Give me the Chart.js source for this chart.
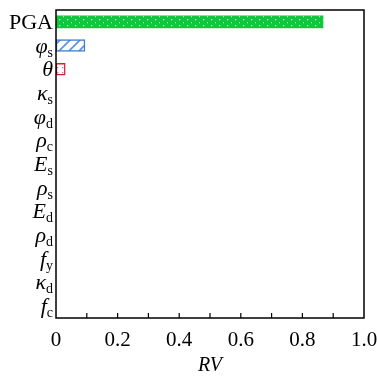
<!DOCTYPE html>
<html>
<head>
<meta charset="utf-8">
<script src="https://cdn.jsdelivr.net/npm/chart.js@4"></script>
<style>
  html, body { margin: 0; padding: 0; background: #fff; }
  #wrap { width: 377px; height: 378px; }
</style>
</head>
<body>
<div id="wrap"><canvas id="rvChart"></canvas></div>
<script>
// parameters (symbol + subscript) and their RV values
var labelMain = ["PGA", "\u03c6", "\u03b8", "\u03ba", "\u03c6", "\u03c1", "E", "\u03c1", "E", "\u03c1", "f", "\u03ba", "f"];
var labelSub = ["", "s", "", "s", "d", "c", "s", "s", "d", "d", "y", "d", "c"];
var rvValues = [0.867, 0.094, 0.03, 0, 0, 0, 0, 0, 0, 0, 0, 0, 0];
var xTicks = [0, 0.2, 0.4, 0.6, 0.8, 1.0];

var categories = labelMain.map(function (m, i) { return m + labelSub[i]; });

// fill patterns
function makePattern(kind) {
  var c = document.createElement("canvas");
  var g = c.getContext("2d");
  if (kind == "dots") {
    c.width = 8; c.height = 6;
    g.fillStyle = "#0fc63c";
    g.fillRect(0, 0, 8, 6);
    g.fillStyle = "rgba(255,255,255,0.7)";
    g.fillRect(3, 1, 1.3, 1.3);
    g.fillRect(7, 4, 1.3, 1.3);
  } else if (kind == "hatch") {
    c.width = 10; c.height = 10;
    g.fillStyle = "#ffffff";
    g.fillRect(0, 0, 10, 10);
    g.strokeStyle = "#5a90e0";
    g.lineWidth = 1.6;
    g.beginPath();
    g.moveTo(0, 10); g.lineTo(10, 0);
    g.moveTo(-2, 2); g.lineTo(2, -2);
    g.moveTo(8, 12); g.lineTo(12, 8);
    g.stroke();
  } else {
    c.width = 5; c.height = 5;
    g.fillStyle = "#ffffff";
    g.fillRect(0, 0, 5, 5);
    g.fillStyle = "#e07080";
    g.fillRect(2, 2, 1.3, 1.3);
  }
  return document.getElementById("rvChart").getContext("2d").createPattern(c, "repeat");
}

var fills = [makePattern("dots"), makePattern("hatch"), makePattern("red")];
var barFill = rvValues.map(function (v, i) { return fills[i] || "#ffffff"; });
var barBorder = rvValues.map(function (v, i) {
  return i == 0 ? "#0fc63c" : i == 1 ? "#3c7fd8" : "#d42035";
});

// frame, inward ticks and the subscripted y labels
var framePlugin = {
  id: "frame",
  afterDraw: function (chart) {
    var ctx = chart.ctx;
    var a = chart.chartArea;
    var xs = chart.scales.x;
    var ys = chart.scales.y;
    ctx.save();
    ctx.strokeStyle = "#000";
    ctx.lineWidth = 1.5;
    ctx.strokeRect(a.left, a.top, a.right - a.left, a.bottom - a.top);
    ctx.lineWidth = 1.2;
    ctx.beginPath();
    for (var t = 1; t < 10; t++) {
      var px = xs.getPixelForValue(t / 10);
      ctx.moveTo(px, a.bottom);
      ctx.lineTo(px, a.bottom - 5);
    }
    ctx.stroke();

    ctx.fillStyle = "#000";
    ctx.textBaseline = "alphabetic";
    for (var i = 0; i < labelMain.length; i++) {
      var py = ys.getPixelForValue(i) + 7;
      var right = a.left - 3;
      var mainFont = i == 0 ? "22px 'Liberation Serif'" : "italic 22px 'Liberation Serif'";
      var subFont = "14px 'Liberation Serif'";
      ctx.font = subFont;
      var sw = labelSub[i] ? ctx.measureText(labelSub[i]).width : 0;
      ctx.textAlign = "left";
      if (labelSub[i]) ctx.fillText(labelSub[i], right - sw, py + 4);
      ctx.font = mainFont;
      var mw = ctx.measureText(labelMain[i]).width;
      ctx.fillText(labelMain[i], right - sw - mw, py);
    }
    ctx.restore();
  },
};

new Chart(document.getElementById("rvChart"), {
  type: "bar",
  data: {
    labels: categories,
    datasets: [
      {
        label: "RV",
        data: rvValues,
        backgroundColor: barFill,
        borderColor: barBorder,
        borderWidth: [0, 1.5, 1.5, 1.5, 1.5, 1.5, 1.5, 1.5, 1.5, 1.5, 1.5, 1.5, 1.5],
        borderSkipped: false,
        barThickness: 12,
      },
    ],
  },
  options: {
    indexAxis: "y",
    responsive: true,
    maintainAspectRatio: false,
    animation: false,
    layout: { padding: { top: 10, right: 13, left: 0, bottom: 0 } },
    plugins: {
      legend: { display: false },
      tooltip: { enabled: false },
    },
    scales: {
      x: {
        min: 0,
        max: 1,
        afterBuildTicks: function (scale) {
          scale.ticks = xTicks.map(function (v) { return { value: v }; });
        },
        ticks: {
          color: "#000",
          padding: 2,
          font: { family: "Liberation Serif", size: 21 },
          maxRotation: 0,
          callback: function (v) { return v == 0 ? "0" : v.toFixed(1); },
        },
        grid: { display: false },
        border: { display: false },
        title: {
          display: true,
          text: "RV",
          color: "#000",
          padding: { top: 0, bottom: 0 },
          font: { family: "Liberation Serif", size: 20, style: "italic" },
        },
        afterFit: function (scale) {
          scale.height = 60;
          scale.paddingLeft = 0;
          scale.paddingRight = 0;
        },
      },
      y: {
        ticks: { display: false },
        grid: { display: false },
        border: { display: false },
        afterFit: function (scale) { scale.width = 56; },
      },
    },
  },
  plugins: [framePlugin],
});
</script>
</body>
</html>
